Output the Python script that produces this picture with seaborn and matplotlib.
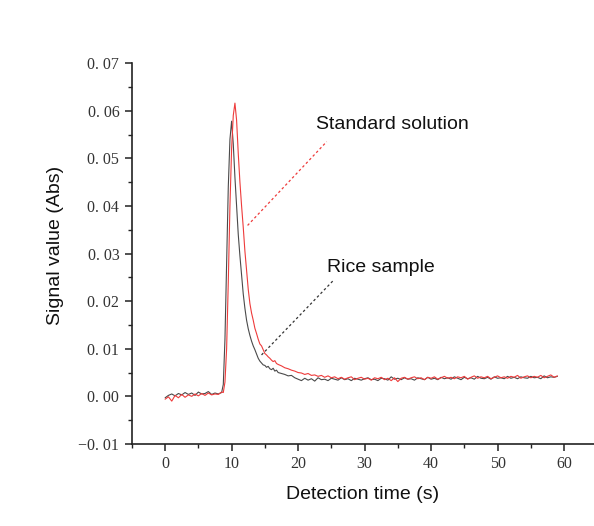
import numpy as np
import pandas as pd
import matplotlib
matplotlib.use("Agg")
import matplotlib.pyplot as plt
import seaborn as sns
from matplotlib.ticker import MultipleLocator, FuncFormatter

# ---------------- data (signal in mAbs, converted to Abs below) ----------------
time_a = [0.0, 0.5, 1.0, 1.5, 2.0, 2.5, 3.0, 3.5, 4.0, 4.5, 5.0, 5.5, 6.0, 6.5, 7.0, 7.5, 8.0, 8.5]
time_b = [8.75, 9.0, 9.25, 9.5, 9.75, 10.0, 10.25, 10.5, 10.75, 11.0, 11.25, 11.5, 11.75, 12.0,
          12.25, 12.5, 12.75, 13.0, 13.25, 13.5, 13.75, 14.0, 14.25, 14.5, 14.75, 15.0, 15.25,
          15.5, 15.75, 16.0, 16.25, 16.5, 16.75, 17.0]
time_c = [17.5, 18.0, 18.5, 19.0, 19.5, 20.0, 20.5, 21.0, 21.5, 22.0, 22.5, 23.0, 23.5, 24.0,
          24.5, 25.0, 25.5, 26.0, 26.5, 27.0, 27.5, 28.0, 28.5, 29.0, 29.5, 30.0, 30.5, 31.0,
          31.5, 32.0, 32.5, 33.0, 33.5, 34.0, 34.5, 35.0, 35.5, 36.0, 36.5, 37.0, 37.5, 38.0,
          38.5, 39.0, 39.5, 40.0, 40.5, 41.0, 41.5, 42.0, 42.5, 43.0, 43.5, 44.0, 44.5, 45.0,
          45.5, 46.0, 46.5, 47.0, 47.5, 48.0, 48.5, 49.0, 49.5, 50.0, 50.5, 51.0, 51.5, 52.0,
          52.5, 53.0, 53.5, 54.0, 54.5, 55.0, 55.5, 56.0, 56.5, 57.0, 57.5, 58.0, 58.5, 59.0]
time_s = time_a + time_b + time_c

rice_mabs = (
    [-0.3, 0.2, 0.5, 0.1, 0.6, 0.3, 0.8, 0.4, 0.7, 0.2, 0.9, 0.5, 0.6, 1.0, 0.4, 0.7, 0.5, 0.8]
    + [2.5, 12.0, 28.0, 44.0, 54.0, 57.8, 53.0, 46.0, 40.0, 34.0, 29.5, 25.5, 21.5, 18.5,
       16.0, 14.2, 12.8, 11.6, 10.6, 9.8, 8.9, 8.0, 7.4, 7.0, 6.6, 6.5, 6.1,
       6.3, 5.8, 5.6, 5.9, 5.3, 5.5, 5.0]
    + [4.8, 4.6, 4.3, 4.4, 3.9, 3.6, 3.3, 3.8, 3.4, 3.7, 3.2, 3.9, 3.5, 3.6,
       3.3, 3.8, 3.6, 3.4, 3.9, 3.5, 3.7, 3.3, 3.8, 3.6, 3.4, 3.7, 3.9, 3.5,
       3.6, 3.3, 3.8, 3.7, 3.4, 4.1, 3.6, 3.8, 3.5, 3.9, 3.6, 3.7, 3.4, 3.9,
       3.7, 3.5, 4.0, 3.6, 3.8, 3.5, 4.0, 3.7, 3.9, 3.6, 4.1, 3.8, 3.5, 4.0,
       3.7, 3.9, 3.6, 4.2, 3.8, 3.7, 4.0, 3.6, 4.1, 3.8, 3.9, 3.7, 4.2, 3.8,
       4.0, 3.7, 4.1, 3.9, 3.8, 4.2, 3.9, 4.0, 3.7, 4.3, 3.9, 4.1, 4.0, 4.2]
)
standard_mabs = (
    [-0.6, -0.1, -1.0, 0.2, -0.3, 0.4, -0.2, 0.3, 0.0, 0.5, 0.1, 0.6, 0.2, 0.7, 0.3, 0.5, 0.4, 0.9]
    + [0.8, 3.0, 10.0, 24.0, 40.0, 52.0, 59.0, 61.6, 58.0, 51.0, 45.0, 40.0, 35.5, 30.5,
       26.5, 22.5, 19.5, 17.5, 16.0, 14.3, 13.2, 12.0, 11.0, 10.6, 9.8, 9.0, 8.7,
       8.3, 8.0, 7.6, 7.3, 7.5, 6.9, 6.7]
    + [6.4, 6.0, 5.8, 5.5, 5.3, 5.0, 4.9, 4.6, 4.8, 4.4, 4.5, 4.2, 4.4, 4.0,
       4.3, 3.9, 4.1, 3.7, 4.0, 3.6, 3.9, 4.1, 3.5, 3.8, 4.0, 3.6, 3.8, 3.4,
       3.9, 3.7, 4.0, 3.5, 3.8, 3.3, 3.9, 3.1, 3.8, 4.0, 3.6, 3.9, 4.1, 3.7,
       3.9, 3.5, 4.0, 3.8, 4.1, 3.6, 3.9, 4.2, 3.8, 4.0, 3.7, 4.1, 3.9, 4.2,
       3.6, 4.0, 4.3, 3.8, 4.1, 3.9, 4.2, 3.7, 4.0, 4.3, 3.9, 4.1, 3.8, 4.2,
       4.0, 4.4, 3.8, 4.1, 4.3, 3.9, 4.2, 4.0, 4.4, 3.9, 4.2, 4.5, 4.0, 4.3]
)
series_names = ["Rice sample", "Standard solution"]

x_ticks = [0, 10, 20, 30, 40, 50, 60]
y_ticks = [-0.01, 0.00, 0.01, 0.02, 0.03, 0.04, 0.05, 0.06, 0.07]

# ---------------- build frame ----------------
df = pd.DataFrame({
    "time": time_s * 2,
    "signal": [v / 1000 for v in rice_mabs] + [v / 1000 for v in standard_mabs],
    "series": [series_names[0]] * len(time_s) + [series_names[1]] * len(time_s),
})

sns.set_style("ticks")
plt.rcParams["font.family"] = ["Liberation Sans", "DejaVu Sans"]

fig = plt.figure(figsize=(5.94, 5.26), dpi=100)
ax = fig.add_axes([0.222, 0.156, 0.778, 0.724])

sns.lineplot(data=df, x="time", y="signal", hue="series",
             palette={"Rice sample": "#4a4a4a", "Standard solution": "#ee3b3b"},
             linewidth=0.8, legend=False, ax=ax, estimator=None, sort=False)

ax.set_xlim(-5, 64.5)
ax.set_ylim(-0.01, 0.07)
ax.set_xticks(x_ticks)
ax.set_yticks(y_ticks)
ax.xaxis.set_minor_locator(MultipleLocator(5))
ax.yaxis.set_minor_locator(MultipleLocator(0.005))


def yfmt(v, pos):
    s = f"{abs(v):.2f}".replace(".", ". ")
    return ("\u2212" + s) if v < -1e-9 else s


ax.yaxis.set_major_formatter(FuncFormatter(yfmt))
ax.xaxis.set_major_formatter(FuncFormatter(lambda v, p: f"{v:.0f}"))

for lab in ax.get_xticklabels() + ax.get_yticklabels():
    lab.set_family(["Liberation Serif", "DejaVu Serif"])
    lab.set_fontsize(11.5)
    lab.set_color("#333333")

ax.tick_params(axis="both", which="major", direction="out", length=5, width=1.1,
               color="#222222", pad=4)
ax.tick_params(axis="both", which="minor", direction="out", length=3, width=1.0, color="#222222")
for side in ["right", "top"]:
    ax.spines[side].set_visible(False)
for side in ["left", "bottom"]:
    ax.spines[side].set_linewidth(1.2)
    ax.spines[side].set_color("#222222")

ax.set_xlabel("Detection time (s)", fontsize=14, color="#111111", labelpad=10)
ax.set_ylabel("Signal value (Abs)", fontsize=14, color="#111111", labelpad=14)
ax.yaxis.set_label_coords(-0.147, 0.52)

# annotations
ax.text(22.7, 0.0572, "Standard solution", fontsize=14, color="#111111", va="center", ha="left")
ax.text(24.4, 0.0271, "Rice sample", fontsize=14, color="#111111", va="center", ha="left")
ax.plot([12.4, 24.3], [0.0359, 0.0535], linestyle=(0, (2, 2)), color="#ee3b3b", linewidth=0.9)
ax.plot([14.5, 25.2], [0.0087, 0.0242], linestyle=(0, (2, 2)), color="#333333", linewidth=0.9)

fig.savefig("out.png", dpi=100)
